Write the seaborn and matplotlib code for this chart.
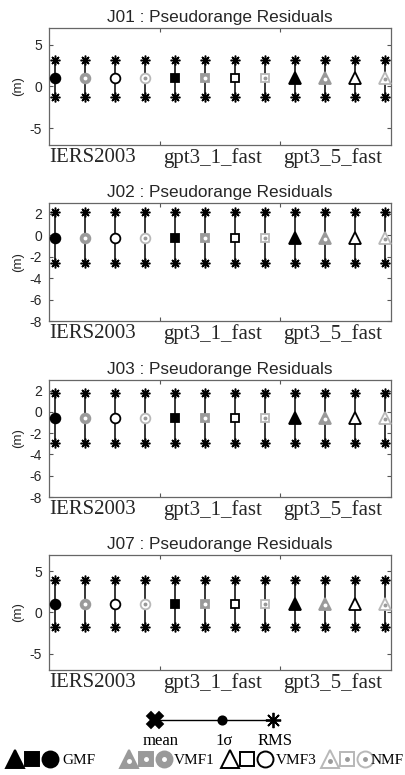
import numpy as np
import pandas as pd
import matplotlib
matplotlib.use("Agg")
import matplotlib.pyplot as plt
import seaborn as sns

sats = ["J01", "J02", "J03", "J07"]
models = ["IERS2003", "gpt3_1_fast", "gpt3_5_fast"]
mapfuncs = ["GMF", "VMF1", "VMF3", "NMF"]

# mean and 1-sigma of the residuals, 12 columns per satellite (model x mapping function)
mean_j01 = [0.97, 0.97, 0.97, 0.97, 0.97, 0.97, 0.97, 0.97, 0.97, 0.97, 0.97, 0.97]
std_j01 = [2.22, 2.22, 2.22, 2.22, 2.22, 2.22, 2.22, 2.22, 2.22, 2.22, 2.22, 2.22]
mean_j02 = [-0.22, -0.22, -0.22, -0.22, -0.22, -0.22, -0.22, -0.22, -0.22, -0.22, -0.22, -0.22]
std_j02 = [2.35, 2.35, 2.35, 2.35, 2.35, 2.35, 2.35, 2.35, 2.35, 2.35, 2.35, 2.35]
mean_j03 = [-0.55, -0.55, -0.55, -0.55, -0.55, -0.55, -0.55, -0.55, -0.55, -0.55, -0.55, -0.55]
std_j03 = [2.35, 2.35, 2.35, 2.35, 2.35, 2.35, 2.35, 2.35, 2.35, 2.35, 2.35, 2.35]
mean_j07 = [1.05, 1.05, 1.05, 1.05, 1.05, 1.05, 1.05, 1.05, 1.05, 1.05, 1.05, 1.05]
std_j07 = [2.85, 2.85, 2.85, 2.85, 2.85, 2.85, 2.85, 2.85, 2.85, 2.85, 2.85, 2.85]

ylims = [(-7, 7), (-8, 3), (-8, 3), (-7, 7)]
yticks = [[-5, 0, 5], [-8, -6, -4, -2, 0, 2], [-8, -6, -4, -2, 0, 2], [-5, 0, 5]]

means = [mean_j01, mean_j02, mean_j03, mean_j07]
stds = [std_j01, std_j02, std_j03, std_j07]

sns.set_theme(style="ticks")
plt.rcParams["font.family"] = ["Liberation Sans", "DejaVu Sans"]

GRAY = "#9a9a9a"
LGRAY = "#b8b8b8"
model_marker = {"IERS2003": "o", "gpt3_1_fast": "s", "gpt3_5_fast": "^"}
model_size = {"IERS2003": 7.0, "gpt3_1_fast": 6.0, "gpt3_5_fast": 8.0}
# face, edge, center dot colour (None = no dot)
mf_style = {
    "GMF": ("black", "black", None),
    "VMF1": (GRAY, GRAY, "white"),
    "VMF3": ("white", "black", None),
    "NMF": ("white", LGRAY, GRAY),
}
ASTER = (8, 2, 0)

fig = plt.figure(figsize=(4.06, 7.75), dpi=100)
boxes = [(0.1207, 0.8129, 0.8424, 0.1510),
         (0.1207, 0.5858, 0.8424, 0.1523),
         (0.1207, 0.3587, 0.8424, 0.1510),
         (0.1207, 0.1355, 0.8424, 0.1484)]

for i, sat in enumerate(sats):
    ax = fig.add_axes(boxes[i])
    df = pd.DataFrame({
        "x": np.arange(1, 13),
        "model": np.repeat(models, 4),
        "mf": np.tile(mapfuncs, 3),
        "mean": means[i],
        "std": stds[i],
    })
    df["lo"] = df["mean"] - df["std"]
    df["hi"] = df["mean"] + df["std"]

    ax.vlines(df["x"], df["lo"], df["hi"], color="black", lw=1.1, zorder=2)
    for col in ["lo", "hi"]:
        ax.plot(df["x"], df[col], ls="none", marker=ASTER, ms=7, mew=1.1,
                color="black", zorder=3)
    for _, r in df.iterrows():
        face, edge, dot = mf_style[r["mf"]]
        m = model_marker[r["model"]]
        ax.plot(r["x"], r["mean"], marker=m, ms=model_size[r["model"]],
                mfc=face, mec=edge, mew=1.3, ls="none", zorder=4)
        if dot is not None:
            yoff = -0.12 if m == "^" else 0
            ax.plot(r["x"], r["mean"] + yoff * (ylims[i][1] - ylims[i][0]) / 14,
                    marker="o", ms=1.8, mfc=dot, mec=dot, ls="none", zorder=5)

    ax.set_xlim(0.8, 12.2)
    ax.set_ylim(*ylims[i])
    ax.set_yticks(yticks[i])
    ax.set_yticklabels([str(t) for t in yticks[i]], fontsize=10)
    ax.set_xticks([4.5, 8.5])
    ax.set_xticklabels([])
    ax.set_xticks([0.82, 4.6, 8.6], minor=True)
    ax.set_xticklabels(models, minor=True, fontsize=15, family="Liberation Serif",
                       ha="left")
    ax.tick_params(axis="x", which="minor", length=0, pad=2)
    ax.tick_params(which="major", direction="in", length=3, width=0.8,
                   top=True, right=True, color="#555555")
    ax.tick_params(axis="y", pad=5)
    for s in ax.spines.values():
        s.set_color("#666666")
        s.set_linewidth(0.9)
    ax.set_ylabel("(m)", fontsize=9.5, labelpad=4)
    ax.set_title(f"{sat} : Pseudorange Residuals", fontsize=12.4, pad=4)

# legend area
lax = fig.add_axes((0, 0, 1, 75 / 775))
lax.set_xlim(0, 406)
lax.set_ylim(75, 0)
lax.axis("off")
serif = dict(family="Liberation Serif", color="black")

leg_x = [155, 222, 273]
leg_marks = ["X", "o", ASTER]
leg_ms = [12, 6, 11]
leg_txt = ["mean", "1σ", "RMS"]
lax.plot([leg_x[0], leg_x[-1]], [20, 20], color="black", lw=1.0)
for x, m, ms, t in zip(leg_x, leg_marks, leg_ms, leg_txt):
    lax.plot(x, 20, marker=m, ms=ms, color="black", mew=1.3, ls="none")
    lax.text(x + (6 if t == "mean" else 2), 41, t, ha="center", va="center",
             fontsize=12, **serif)

group_x = [15, 129, 230, 330]
text_x = [62, 174, 276, 371]
for gx, tx, mf in zip(group_x, text_x, mapfuncs):
    face, edge, dot = mf_style[mf]
    for k, (m, ms) in enumerate([("^", 12.5), ("s", 10), ("o", 11.5)]):
        x = gx + k * 17.5
        lax.plot(x, 59, marker=m, ms=ms, mfc=face, mec=edge, mew=1.4, ls="none")
        if dot is not None:
            lax.plot(x, 59 + (2 if m == "^" else 0), marker="o", ms=2.5,
                     mfc=dot, mec=dot, ls="none")
    lax.text(tx, 60, mf, ha="left", va="center", fontsize=11, **serif)

fig.savefig("out.png", dpi=100)
